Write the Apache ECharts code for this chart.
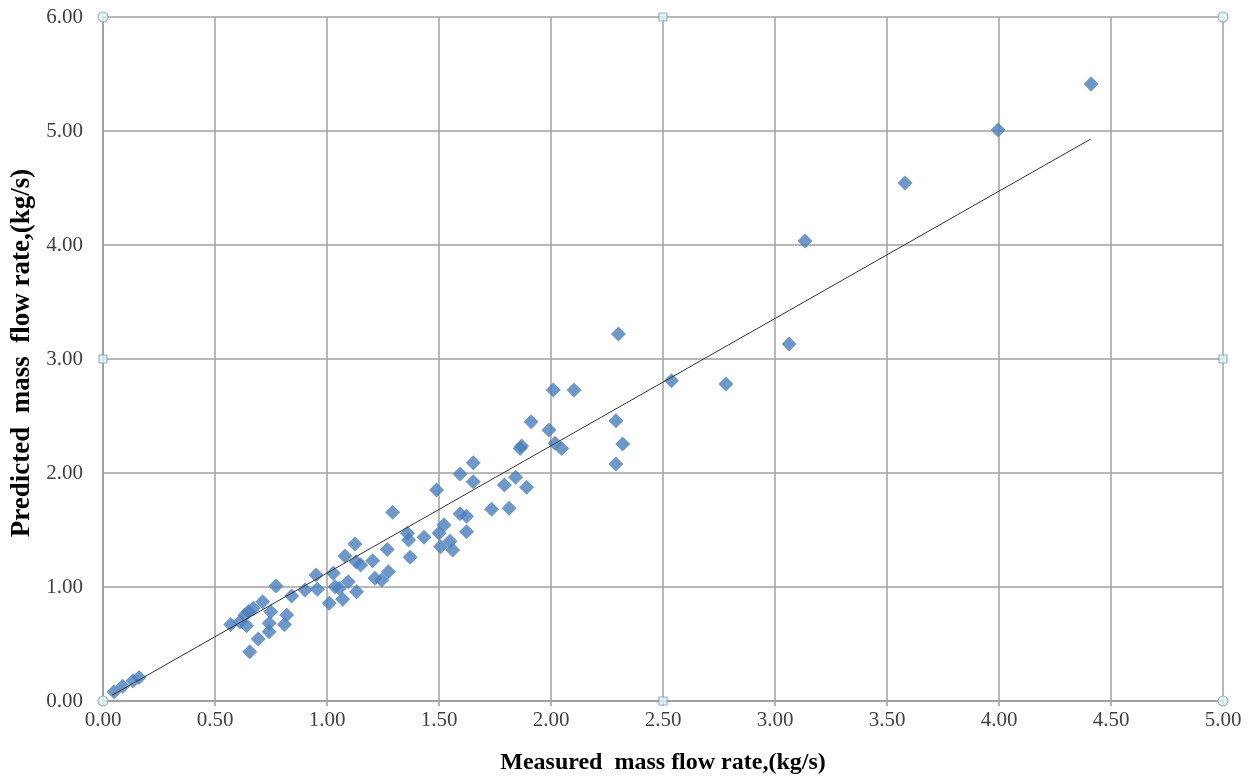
<!DOCTYPE html>
<html>
<head>
<meta charset="utf-8">
<script src="https://cdn.jsdelivr.net/npm/echarts@6/dist/echarts.min.js"></script>
<style>html,body{margin:0;padding:0;background:#fff}#c{width:1257px;height:784px}</style>
</head>
<body>
<div id="c"></div>
<script>
// Measured mass flow rate (kg/s)
const measured = [
  0.049,0.088,0.134,0.161,
  0.570,0.612,0.634,0.649,0.671,0.641,0.713,0.749,0.772,0.820,0.810,0.742,0.742,0.693,0.655,0.842,0.902,0.951,0.957,1.010,
  1.028,1.036,1.055,1.070,1.095,1.132,1.125,1.080,1.130,1.150,1.204,1.214,1.244,1.274,1.269,1.293,
  1.359,1.364,1.371,1.433,1.489,1.500,1.507,1.522,1.549,1.561,1.594,1.623,1.623,1.594,1.653,1.653,
  1.735,1.813,1.792,1.842,1.891,1.862,1.869,1.911,1.991,2.010,2.103,2.018,2.048,
  2.290,2.320,2.290,2.301,2.538,2.781,3.063,3.134,3.580,3.996,4.411
];
// Predicted mass flow rate (kg/s)
const predicted = [
  0.082,0.130,0.178,0.206,
  0.672,0.696,0.754,0.783,0.813,0.661,0.871,0.783,1.009,0.754,0.672,0.681,0.608,0.544,0.432,0.921,0.974,1.105,0.980,0.857,
  1.120,1.003,0.988,0.892,1.047,0.959,1.377,1.272,1.222,1.193,1.231,1.076,1.061,1.134,1.330,1.655,
  1.471,1.412,1.260,1.436,1.851,1.471,1.354,1.544,1.401,1.325,1.643,1.620,1.485,1.991,2.091,1.924,
  1.681,1.690,1.895,1.962,1.874,2.216,2.237,2.450,2.377,2.728,2.728,2.260,2.216,
  2.459,2.254,2.079,3.219,2.810,2.781,3.132,4.035,4.544,5.009,5.412
];
// Linear trend line endpoints
const trendX = [0.04, 4.41];
const trendY = [0.05, 4.93];
// Axes
const xTicks = {min: 0, max: 5, interval: 0.5};
const yTicks = {min: 0, max: 6, interval: 1};
const xTitle = 'Measured  mass flow rate,(kg/s)';
const yTitle = 'Predicted  mass  flow rate,(kg/s)';

const points = measured.map((x, i) => [x, predicted[i]]);
const trend = trendX.map((x, i) => [x, trendY[i]]);
const xMid = (xTicks.min + xTicks.max) / 2, yMid = (yTicks.min + yTicks.max) / 2;
const handlesCircle = [[xTicks.min,yTicks.min],[xTicks.min,yTicks.max],[xTicks.max,yTicks.max],[xTicks.max,yTicks.min]];
const handlesSquare = [[xMid,yTicks.min],[xMid,yTicks.max],[xTicks.min,yMid],[xTicks.max,yMid]];

const serif = '"Liberation Serif", "DejaVu Serif", serif';
const chart = echarts.init(document.getElementById('c'), null, {renderer: 'canvas'});
chart.setOption({
  animation: false,
  backgroundColor: '#fff',
  grid: {left: 103, right: 34, top: 17, bottom: 83, containLabel: false},
  xAxis: {
    type: 'value', min: xTicks.min, max: xTicks.max, interval: xTicks.interval,
    name: xTitle, nameLocation: 'middle', nameGap: 50,
    nameTextStyle: {fontFamily: serif, fontWeight: 'bold', fontSize: 24, color: '#000'},
    axisLine: {show: true, lineStyle: {color: '#a0a0a0', width: 2}},
    axisTick: {show: true, length: 5, lineStyle: {color: '#a0a0a0', width: 1.5}},
    axisLabel: {formatter: v => v.toFixed(2), fontFamily: serif, fontSize: 21, color: '#404040', margin: 9},
    splitLine: {show: true, lineStyle: {color: '#a0a0a0', width: 1.5}}
  },
  yAxis: {
    type: 'value', min: yTicks.min, max: yTicks.max, interval: yTicks.interval,
    name: yTitle, nameLocation: 'middle', nameGap: 60, nameRotate: 90,
    nameTextStyle: {fontFamily: serif, fontWeight: 'bold', fontSize: 27, color: '#000', padding: [0, 0, 0, 12]},
    axisLine: {show: true, lineStyle: {color: '#a0a0a0', width: 2}},
    axisTick: {show: false},
    axisLabel: {formatter: v => v.toFixed(2), fontFamily: serif, fontSize: 21, color: '#404040', margin: 20},
    splitLine: {show: true, lineStyle: {color: '#a0a0a0', width: 1.5}}
  },
  series: [
    {
      type: 'line', data: trend, symbol: 'none', silent: true, z: 3,
      lineStyle: {color: '#333', width: 1}
    },
    {
      type: 'scatter', data: points, symbol: 'diamond', symbolSize: 15, z: 2,
      itemStyle: {color: '#4a7ebb'}
    },
    {
      type: 'scatter', data: handlesCircle, symbol: 'circle', symbolSize: 10, silent: true, z: 5,
      itemStyle: {color: '#dff3f8', borderColor: '#8fa3b0', borderWidth: 1.2}
    },
    {
      type: 'scatter', data: handlesSquare, symbol: 'rect', symbolSize: 8, silent: true, z: 5,
      itemStyle: {color: '#dff3f8', borderColor: '#7fa0c0', borderWidth: 1.2}
    }
  ]
});
</script>
</body>
</html>
